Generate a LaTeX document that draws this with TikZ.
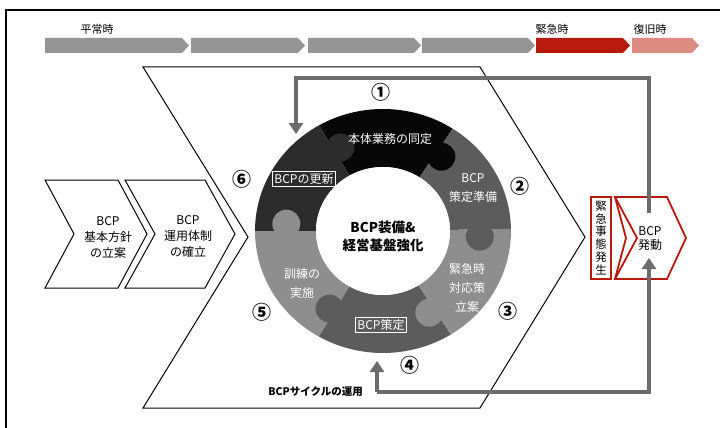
\documentclass[tikz,border=0pt]{standalone}
\usepackage{fontspec}
\setmainfont{Noto Sans CJK JP}
\usetikzlibrary{arrows.meta}
\definecolor{barGray}{HTML}{959595}
\definecolor{bcpRed}{HTML}{B51A0C}
\definecolor{bcpPink}{HTML}{DD8B80}
\definecolor{flowGray}{HTML}{6C6C6C}
\definecolor{segBlack}{HTML}{070707}
\definecolor{segDark}{HTML}{2C2C2C}
\definecolor{segMid}{HTML}{5C5C5C}
\definecolor{segLight}{HTML}{8E8E8E}
\begin{document}
\begin{tikzpicture}[x=1pt,y=-1pt,
  chev/.style={draw=black,line width=1pt,fill=white,line join=miter},
  redshape/.style={draw=bcpRed,line width=1.8pt,fill=white},
  flow/.style={draw=flowGray,line width=3.5pt},
  fhead/.style={-{Triangle[width=14pt,length=11pt]}},
  lbl/.style={font=\fontsize{12}{16}\selectfont,align=center,inner sep=0pt},
  toplbl/.style={font=\fontsize{11}{13}\selectfont,inner sep=0pt},
  ringtxt/.style={font=\fontsize{12}{19}\selectfont,align=center,inner sep=0pt,text=white},
  boxed/.style={draw=white,line width=0.7pt,inner sep=1.8pt,text=white,font=\fontsize{12}{14}\selectfont},
  num/.style={font=\fontsize{19}{19}\selectfont\bfseries,inner sep=0pt},
  centertxt/.style={font=\fontsize{13.5}{18}\selectfont\bfseries,align=center,inner sep=0pt}
]
\useasboundingbox (0,0) rectangle (720,428);
\fill[white] (0,0) rectangle (720,428);
% outer frame
\draw[line width=1.2pt] (6,10) rectangle (740,450);

% top timeline
\foreach \a/\b/\c in {45/189/barGray,191/305/barGray,308/421/barGray,422/535/barGray,536/630/bcpRed,632/699/bcpPink}
  \fill[\c] (\a,38) -- ({\b-7},38) -- (\b,45.5) -- ({\b-7},53) -- (\a,53) -- cycle;
\node[toplbl] (tHeijo) at (97,29) {平常時};
\node[toplbl] (tKinkyu) at (552,29) {緊急時};
\node[toplbl] (tFukkyu) at (650,29) {復旧時};

% big chevron
\draw[chev] (143,67) -- (480,67) -- (585,237) -- (480,408) -- (143,408) -- (248,237) -- cycle;

% left chevrons
\draw[chev] (45,180) -- (118,180) -- (147,234) -- (118,288) -- (45,288) -- (74,234) -- cycle;
\draw[chev] (125,180) -- (205,180) -- (235,234) -- (205,288) -- (125,288) -- (155,234) -- cycle;
\node[lbl] (kihon) at (108,237) {BCP\\基本方針\\の立案};
\node[lbl] (unyo) at (188,237) {BCP\\運用体制\\の確立};

% ring
\begin{scope}[shift={(383,231)},yscale=-1]
  \foreach \a/\b/\c in {57/120/segBlack,120/180/segDark,180/240/segLight,240/302/segMid,302/361/segLight,1/57/segMid}
    \fill[\c] (\a:128 and 122) arc[start angle=\a,end angle=\b,x radius=128,y radius=122]
      -- (\b:67 and 64) arc[start angle=\b,end angle=\a,x radius=67,y radius=64] -- cycle;
  \foreach \a/\c in {175.5/segLight,116/segDark,53/segBlack,-3.5/segMid,-61.5/segLight,236.5/segMid}
    \fill[\c] (\a:97 and 93) circle (14);
  \fill[white] (0,0) ellipse[x radius=67,y radius=64];
\end{scope}
\coordinate (ringTL) at (296,134);
\coordinate (ringB) at (377,361);

\node[centertxt] (center) at (383,236) {BCP装備\&\\経営基盤強化};
\node[ringtxt] (s1) at (390,139) {本体業務の同定};
\node[ringtxt] (s2) at (473,188) {BCP\\策定準備};
\node[ringtxt] (s3) at (467,288) {緊急時\\対応策\\立案};
\node[boxed] (s4) at (381,325) {BCP策定};
\node[ringtxt] (s5) at (302,283) {訓練の\\実施};
\node[boxed] (s6) at (304,179) {BCPの更新};

\node[num] (n1) at (381,92) {①};
\node[num] (n2) at (520,186) {②};
\node[num] (n3) at (508,311) {③};
\node[num] (n4) at (410,365) {④};
\node[num] (n5) at (262,312) {⑤};
\node[num] (n6) at (242,179) {⑥};

% red emergency shapes
\draw[redshape] (591,197) rectangle (611,279);
\node[lbl,font=\fontsize{11.5}{12.8}\selectfont] (hassei) at (601,238) {緊\\急\\事\\態\\発\\生};
\draw[redshape] (615,197) -- (667,197) -- (686,238) -- (667,279) -- (615,279) -- (637,238) -- cycle;
\draw[draw=bcpRed,line width=1.8pt] (615,197) -- (626,238) -- (615,279);
\node[lbl,font=\fontsize{12}{14}\selectfont] (hatsudo) at (650,239) {BCP\\発動};
\coordinate (hatsudoTop) at (649,213);
\coordinate (hatsudoBot) at (649,258);

% flow connectors
\draw[flow,fhead] (hatsudoTop) |- (296,78) -- (ringTL);
\draw[flow,fhead] (ringB |- 0,392) -- (ringB);
\draw[flow,fhead] (ringB |- 0,392) -| (hatsudoBot);
\node[font=\fontsize{10.5}{12}\selectfont\bfseries,anchor=east,inner sep=0pt] (cycle) at (363,392) {BCPサイクルの運用};
\end{tikzpicture}
\end{document}
